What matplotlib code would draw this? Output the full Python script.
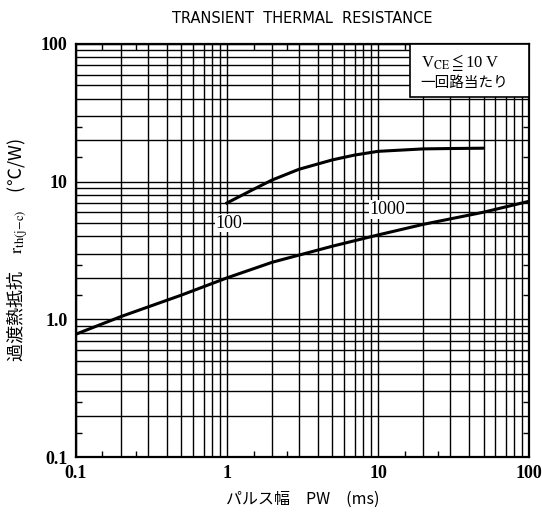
import matplotlib
matplotlib.use("Agg")
import matplotlib.pyplot as plt
from matplotlib.patches import Rectangle
from matplotlib.ticker import LogLocator, FixedLocator, NullFormatter, FixedFormatter

plt.rcParams['mathtext.fontset'] = 'stix'

# data
pw_1000 = [0.1, 0.2, 0.5, 1, 2, 5, 10, 20, 50, 100]
r_1000 = [0.78, 1.05, 1.5, 2.0, 2.6, 3.4, 4.1, 4.9, 6.0, 7.2]
pw_100 = [1, 1.5, 2, 3, 5, 7, 10, 20, 30, 50]
r_100 = [7.0, 8.8, 10.3, 12.3, 14.4, 15.6, 16.6, 17.3, 17.4, 17.5]

x_ticks = [0.1, 1, 10, 100]
x_ticklabels = ["0.1", "1", "10", "100"]
y_ticks = [0.1, 1, 10, 100]
y_ticklabels = ["0.1", "1.0", "10", "100"]

fig = plt.figure(figsize=(5.42, 5.15), dpi=100)
ax = fig.add_axes([0.140, 0.1126, 0.836, 0.802])
ax.set_xscale('log')
ax.set_yscale('log')
ax.set_xlim(0.1, 100)
ax.set_ylim(0.1, 100)

ax.xaxis.set_major_locator(FixedLocator(x_ticks))
ax.xaxis.set_major_formatter(FixedFormatter(x_ticklabels))
ax.yaxis.set_major_locator(FixedLocator(y_ticks))
ax.yaxis.set_major_formatter(FixedFormatter(y_ticklabels))
ax.xaxis.set_minor_locator(LogLocator(base=10, subs=range(2, 10)))
ax.yaxis.set_minor_locator(LogLocator(base=10, subs=range(2, 10)))
ax.xaxis.set_minor_formatter(NullFormatter())
ax.yaxis.set_minor_formatter(NullFormatter())
ax.set_axisbelow(True)
ax.grid(True, which='both', color='black', linewidth=1.0)
ax.tick_params(which='both', length=0)
ax.tick_params(axis='x', pad=6)
ax.tick_params(axis='y', pad=6)
for lab in ax.get_xticklabels() + ax.get_yticklabels():
    lab.set_family('Liberation Serif')
    lab.set_fontweight('bold')
    lab.set_fontsize(13)
for s in ax.spines.values():
    s.set_linewidth(1.6)

# small half-step ticks
half = [m * 10.0**e for e in (-1, 0, 1) for m in (1.5, 2.5)]
for side in ('bottom', 'top'):
    sx = ax.secondary_xaxis(side)
    sx.set_xticks(half)
    sx.xaxis.set_minor_locator(FixedLocator([]))
    sx.tick_params(which='major', direction='in', length=4, width=1, labelbottom=False, labeltop=False)
    sx.spines[side].set_visible(False)
for side in ('left', 'right'):
    sy = ax.secondary_yaxis(side)
    sy.set_yticks(half)
    sy.yaxis.set_minor_locator(FixedLocator([]))
    sy.tick_params(which='major', direction='in', length=4, width=1, labelleft=False, labelright=False)
    sy.spines[side].set_visible(False)

ax.plot(pw_1000, r_1000, color='black', linewidth=2.2, zorder=5)
ax.plot(pw_100, r_100, color='black', linewidth=2.2, zorder=5)

bbox = dict(facecolor='white', edgecolor='none', pad=0.5)
ax.text(1.03, 5.0, "100", family='Liberation Serif', fontsize=13, ha='center', va='center',
        bbox=bbox, zorder=6)
ax.text(11.5, 6.3, "1000", family='Liberation Serif', fontsize=13, ha='center', va='center',
        bbox=bbox, zorder=6)

# condition box
ax.add_patch(Rectangle((0.737, 0.872), 0.263, 0.128, transform=ax.transAxes,
                       facecolor='white', edgecolor='black', linewidth=1.2, zorder=4))
ax.text(0.762, 0.955, "V$_{\\rm CE}$$\\leqq$10 V", transform=ax.transAxes, fontsize=12,
        family='Liberation Serif', ha='left', va='center', zorder=6)
ax.text(0.760, 0.905, "一回路当たり", transform=ax.transAxes, fontsize=10.5,
        family=['Noto Sans CJK JP', 'DejaVu Sans'], ha='left', va='center', zorder=6)

fig.text(0.557, 0.965, "TRANSIENT  THERMAL  RESISTANCE", ha='center', va='center',
         fontsize=10.5, family='DejaVu Sans')
ax.set_xlabel("パルス幅　PW　(ms)", family=['Noto Sans CJK JP', 'DejaVu Sans'], fontsize=11.5,
              labelpad=6)
ax.set_ylabel("過渡熱抵抗　$\\mathrm{r}_{\\mathrm{th(j\\!-\\!c)}}$　(℃/W)",
              family=['Noto Sans CJK JP', 'DejaVu Sans'], fontsize=13, labelpad=8)

fig.savefig("out.png", dpi=100)
